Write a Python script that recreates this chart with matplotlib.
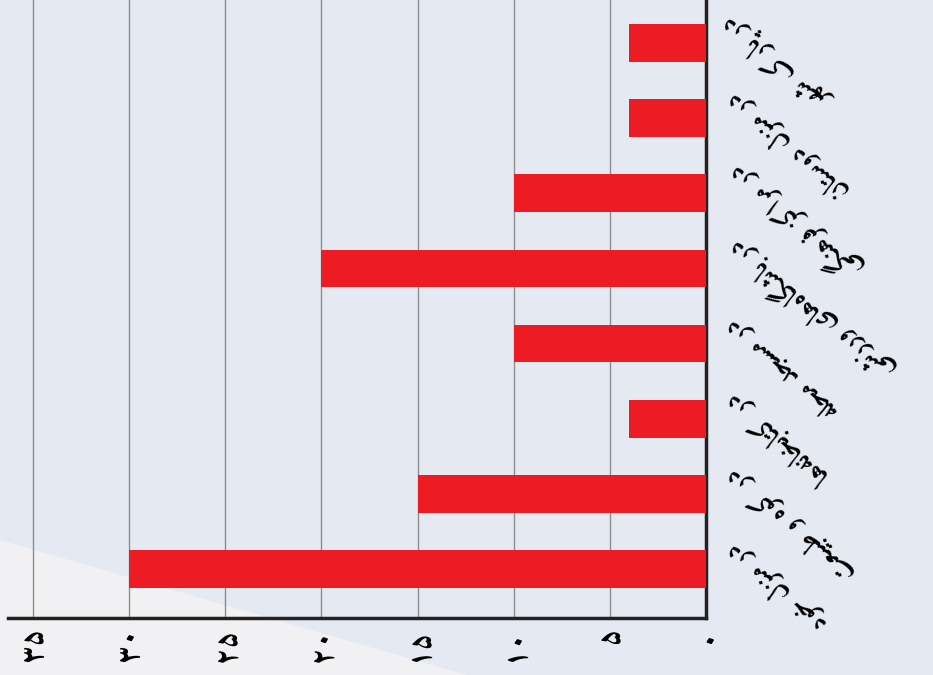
import matplotlib
matplotlib.use("Agg")
import matplotlib.pyplot as plt
from matplotlib.patches import Polygon
from matplotlib.transforms import ScaledTranslation

# labels top -> bottom (Persian)
labels = ["در پارک شهر", "در منزل دوستان", "در مراکز فرهنگی",
          "در باشگاه‌های ورزشی", "در مسجد محله", "در کتابخانه‌ها",
          "در کوه و طبیعت", "در منزل خود"]
values = [4, 4, 10, 20, 10, 4, 15, 30]
ticks = [0, 5, 10, 15, 20, 25, 30, 35]

# --- tiny arabic/persian shaper (matplotlib has no shaping) ---
FORMS = {
    'ا': (0xFE8D, 0xFE8E, None, None), 'آ': (0xFE81, 0xFE82, None, None),
    'ب': (0xFE8F, 0xFE90, 0xFE91, 0xFE92), 'پ': (0xFB56, 0xFB57, 0xFB58, 0xFB59),
    'ت': (0xFE95, 0xFE96, 0xFE97, 0xFE98), 'ث': (0xFE99, 0xFE9A, 0xFE9B, 0xFE9C),
    'ج': (0xFE9D, 0xFE9E, 0xFE9F, 0xFEA0), 'چ': (0xFB7A, 0xFB7B, 0xFB7C, 0xFB7D),
    'ح': (0xFEA1, 0xFEA2, 0xFEA3, 0xFEA4), 'خ': (0xFEA5, 0xFEA6, 0xFEA7, 0xFEA8),
    'د': (0xFEA9, 0xFEAA, None, None), 'ذ': (0xFEAB, 0xFEAC, None, None),
    'ر': (0xFEAD, 0xFEAE, None, None), 'ز': (0xFEAF, 0xFEB0, None, None),
    'ژ': (0xFB8A, 0xFB8B, None, None),
    'س': (0xFEB1, 0xFEB2, 0xFEB3, 0xFEB4), 'ش': (0xFEB5, 0xFEB6, 0xFEB7, 0xFEB8),
    'ص': (0xFEB9, 0xFEBA, 0xFEBB, 0xFEBC), 'ض': (0xFEBD, 0xFEBE, 0xFEBF, 0xFEC0),
    'ط': (0xFEC1, 0xFEC2, 0xFEC3, 0xFEC4), 'ظ': (0xFEC5, 0xFEC6, 0xFEC7, 0xFEC8),
    'ع': (0xFEC9, 0xFECA, 0xFECB, 0xFECC), 'غ': (0xFECD, 0xFECE, 0xFECF, 0xFED0),
    'ف': (0xFED1, 0xFED2, 0xFED3, 0xFED4), 'ق': (0xFED5, 0xFED6, 0xFED7, 0xFED8),
    'ک': (0xFB8E, 0xFB8F, 0xFB90, 0xFB91), 'گ': (0xFB92, 0xFB93, 0xFB94, 0xFB95),
    'ل': (0xFEDD, 0xFEDE, 0xFEDF, 0xFEE0), 'م': (0xFEE1, 0xFEE2, 0xFEE3, 0xFEE4),
    'ن': (0xFEE5, 0xFEE6, 0xFEE7, 0xFEE8), 'و': (0xFEED, 0xFEEE, None, None),
    'ه': (0xFEE9, 0xFEEA, 0xFEEB, 0xFEEC), 'ی': (0xFBFC, 0xFBFD, 0xFBFE, 0xFBFF),
}


def shape(text):
    out = []
    chars = list(text)
    for i, c in enumerate(chars):
        if c == '\u200c':
            continue
        if c not in FORMS:
            out.append(c)
            continue
        f = FORMS[c]
        prev = chars[i - 1] if i > 0 else None
        nxt = chars[i + 1] if i + 1 < len(chars) else None
        jp = prev in FORMS and FORMS[prev][2] is not None
        jn = f[2] is not None and nxt in FORMS
        if jp and jn:
            g = f[3]
        elif jp:
            g = f[1]
        elif jn:
            g = f[2]
        else:
            g = f[0]
        out.append(chr(g))
    return ''.join(reversed(out))


def fa_digits(n):
    return str(n).translate(str.maketrans('0123456789', '۰۱۲۳۴۵۶۷۸۹'))


fig = plt.figure(figsize=(9.33, 6.75), dpi=100, facecolor='#e5eaf2')
# pale swoosh bottom-left
fig.patches.append(Polygon([(0, 0), (0, 0.2), (0.2, 0.12), (0.5, 0)],
                           closed=True, transform=fig.transFigure,
                           facecolor='#f1f1f3', edgecolor='none', zorder=-1))

ax = fig.add_axes([0.0086, 0.0844, 0.7481, 0.9156])
ax.set_facecolor('none')
y = list(range(len(values)))
ax.barh(y, values, height=0.5, color='#ed1c24', zorder=3)
ax.set_xlim(36.3, 0)
ax.set_ylim(7.652, -0.572)

ax.set_xticks(ticks)
ax.set_xticklabels([fa_digits(t) for t in ticks], rotation=90, fontsize=22,
                   fontweight='bold', family=['Amiri', 'DejaVu Sans'])
ax.grid(axis='x', color='#8c8c8c', lw=1, zorder=0)
ax.tick_params(axis='x', length=0, pad=6)

ax.yaxis.tick_right()
ax.set_yticks(y)
ax.set_yticklabels([shape(l) for l in labels], rotation=140, fontsize=20,
                   fontweight='bold', family=['Amiri', 'DejaVu Sans'],
                   rotation_mode='anchor', ha='right', va='top')
ax.tick_params(axis='y', length=0, pad=10)
shift = ScaledTranslation(0, 0.1, fig.dpi_scale_trans)
for lab in ax.get_yticklabels():
    lab.set_transform(lab.get_transform() + shift)

for s in ['left', 'top']:
    ax.spines[s].set_visible(False)
for s in ['right', 'bottom']:
    ax.spines[s].set_linewidth(2.5)
    ax.spines[s].set_color('#222222')

fig.savefig('out.png', dpi=100, facecolor=fig.get_facecolor())
